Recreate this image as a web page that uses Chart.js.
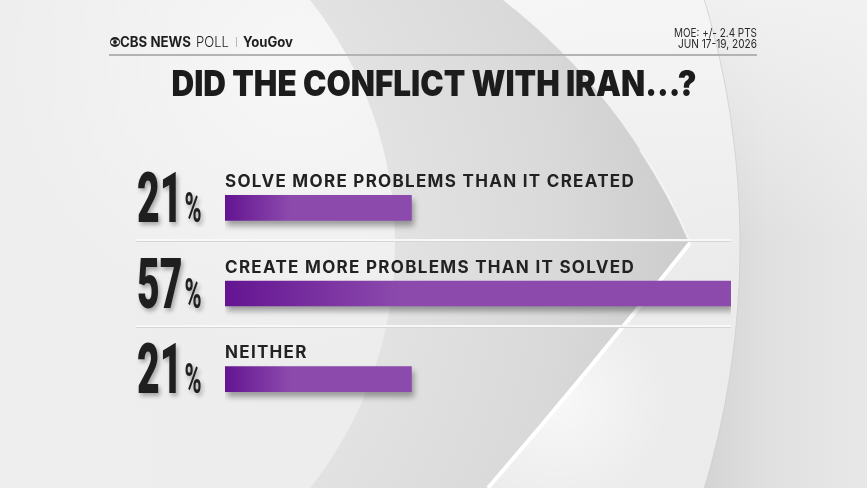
<!DOCTYPE html>
<html>
<head>
<meta charset="utf-8">
<script src="https://cdn.jsdelivr.net/npm/chart.js@4.4.1/dist/chart.umd.min.js"></script>
<style>
  html, body { margin: 0; padding: 0; background: #ececed; }
  #wrap { width: 867px; height: 488px; }
</style>
</head>
<body>
<div id="wrap"><canvas id="chart" width="867" height="488"></canvas></div>
<script>
// poll data
const categories = [
  'SOLVE MORE PROBLEMS THAN IT CREATED',
  'CREATE MORE PROBLEMS THAN IT SOLVED',
  'NEITHER'
];
const values = [21, 57, 21];
const title = 'DID THE CONFLICT WITH IRAN...?';
const moeLines = ['MOE: +/- 2.4 PTS', 'JUN 17-19, 2026'];

const barDark = '#641491';
const barLight = '#8c4aad';

// draws text squeezed horizontally (condensed look)
function squeezed(ctx, text, x, y, font, sx) {
  ctx.save();
  ctx.font = font;
  ctx.translate(x, y);
  ctx.scale(sx, 1);
  ctx.fillText(text, 0, 0);
  const w = ctx.measureText(text).width * sx;
  ctx.restore();
  return w;
}

// fit text into a given width
function fitted(ctx, text, x, y, font, width, align) {
  ctx.save();
  ctx.font = font;
  const w = ctx.measureText(text).width;
  const sx = width / w;
  let left = x;
  if (align === 'center') left = x - width / 2;
  if (align === 'right') left = x - width;
  ctx.translate(left, y);
  ctx.scale(sx, 1);
  ctx.textAlign = 'left';
  ctx.fillText(text, 0, 0);
  ctx.restore();
}

function lensPath(ctx) {
  // dark leaf between the left circle and the chevron curve
  ctx.beginPath();
  ctx.moveTo(310, 0);
  ctx.lineTo(503, 0);
  ctx.quadraticCurveTo(625, 95, 690, 243);
  ctx.quadraticCurveTo(590, 370, 488, 488);
  ctx.lineTo(317, 488);
  ctx.arc(2, 244, 393, Math.asin(244 / 393), -Math.asin(244 / 393), true);
  ctx.closePath();
}

const background = {
  id: 'background',
  beforeDraw(chart) {
    const ctx = chart.ctx;
    const W = chart.width, H = chart.height;
    ctx.save();
    let g = ctx.createLinearGradient(0, 0, W, 0);
    g.addColorStop(0, '#eeeeef');
    g.addColorStop(1, '#ebebec');
    ctx.fillStyle = g;
    ctx.fillRect(0, 0, W, H);

    // soft glow inside the left circle
    g = ctx.createRadialGradient(300, 60, 10, 300, 60, 300);
    g.addColorStop(0, 'rgba(255,255,255,0.55)');
    g.addColorStop(1, 'rgba(255,255,255,0)');
    ctx.fillStyle = g;
    ctx.fillRect(0, 0, W, H);

    // lighter area at the top right
    g = ctx.createLinearGradient(0, 0, 0, 260);
    g.addColorStop(0, 'rgba(248,248,249,0.8)');
    g.addColorStop(1, 'rgba(248,248,249,0)');
    ctx.fillStyle = g;
    ctx.fillRect(503, 0, W - 503, 260);

    // glow left of the white arc
    g = ctx.createRadialGradient(560, 400, 5, 560, 400, 110);
    g.addColorStop(0, 'rgba(255,255,255,0.6)');
    g.addColorStop(1, 'rgba(255,255,255,0)');
    ctx.fillStyle = g;
    ctx.fillRect(400, 280, 300, 208);

    // outer right region beyond the big arc
    ctx.beginPath();
    ctx.rect(0, 0, W, H);
    ctx.arc(-116, 244, 856, 0, Math.PI * 2, true);
    g = ctx.createLinearGradient(700, 0, W, 0);
    g.addColorStop(0, '#d3d3d4');
    g.addColorStop(0.4, '#e0e0e1');
    g.addColorStop(1, '#e8e8e9');
    ctx.fillStyle = g;
    ctx.fill('evenodd');
    g = ctx.createLinearGradient(0, 0, 0, 240);
    g.addColorStop(0, 'rgba(242,242,243,0.95)');
    g.addColorStop(1, 'rgba(242,242,243,0)');
    ctx.fillStyle = g;
    ctx.fill('evenodd');

    // the dark leaf
    lensPath(ctx);
    g = ctx.createRadialGradient(2, 244, 393, 2, 244, 700);
    g.addColorStop(0, '#e2e2e3');
    g.addColorStop(0.55, '#d9d9da');
    g.addColorStop(1, '#cbcbcc');
    ctx.fillStyle = g;
    ctx.fill();

    // highlight on the chevron edge
    ctx.beginPath();
    ctx.moveTo(640, 150);
    ctx.quadraticCurveTo(670, 195, 690, 243);
    ctx.strokeStyle = 'rgba(255,255,255,0.55)';
    ctx.lineWidth = 2;
    ctx.stroke();

    // white arc below the chevron
    ctx.beginPath();
    ctx.moveTo(690, 243);
    ctx.quadraticCurveTo(590, 370, 488, 488);
    ctx.strokeStyle = '#ffffff';
    ctx.lineWidth = 4;
    ctx.stroke();

    // edge of the big arc
    ctx.beginPath();
    ctx.arc(-116, 244, 856, -0.3, 0.3);
    ctx.strokeStyle = 'rgba(200,200,201,0.6)';
    ctx.lineWidth = 1;
    ctx.stroke();
    ctx.restore();
  }
};

const barShadow = {
  id: 'barShadow',
  beforeDatasetDraw(chart) {
    const ctx = chart.ctx;
    ctx.save();
    ctx.shadowColor = 'rgba(0,0,0,0.35)';
    ctx.shadowBlur = 6;
    ctx.shadowOffsetX = 2;
    ctx.shadowOffsetY = 5;
  },
  afterDatasetDraw(chart) {
    chart.ctx.restore();
  }
};

const decorations = {
  id: 'decorations',
  beforeDatasetsDraw(chart) {
    const ctx = chart.ctx;
    const y = chart.scales.y;
    const right = chart.chartArea.right;
    ctx.save();
    for (let i = 0; i < categories.length - 1; i++) {
      const ly = Math.round(y.getPixelForValue(i)) + 32;
      ctx.fillStyle = '#d6d6d7';
      ctx.fillRect(136, ly + 1, right - 136, 1);
      ctx.fillStyle = '#f8f8f9';
      ctx.fillRect(136, ly - 1, right - 136, 2);
    }
    ctx.restore();
  },
  afterDraw(chart) {
    const ctx = chart.ctx;
    const y = chart.scales.y;
    const left = chart.chartArea.left;
    ctx.save();
    ctx.textBaseline = 'alphabetic';

    // header
    ctx.fillStyle = '#b3b3b4';
    ctx.fillRect(109, 54, 648, 2);
    ctx.fillStyle = '#1e1e1e';
    // eye logo
    ctx.beginPath();
    ctx.arc(115, 42, 5, 0, Math.PI * 2);
    ctx.fill();
    ctx.fillStyle = '#efefef';
    ctx.beginPath();
    ctx.ellipse(115, 42, 4.2, 2.6, 0, 0, Math.PI * 2);
    ctx.fill();
    ctx.fillStyle = '#1e1e1e';
    ctx.beginPath();
    ctx.arc(115, 42, 1.9, 0, Math.PI * 2);
    ctx.fill();
    fitted(ctx, 'CBS NEWS', 120, 47, '700 14px Inter', 71, 'left');
    fitted(ctx, 'POLL', 196, 47, '300 14px Inter', 33, 'left');
    ctx.fillStyle = '#b8b8b8';
    ctx.fillRect(236, 37, 1, 10);
    ctx.fillStyle = '#1e1e1e';
    fitted(ctx, 'YouGov', 243, 47, '700 14px Inter', 50, 'left');

    ctx.fillStyle = '#2a2a2a';
    fitted(ctx, moeLines[0], 757, 37, '400 12px Inter', 83, 'right');
    fitted(ctx, moeLines[1], 757, 48, '400 12px Inter', 79, 'right');

    // title
    ctx.fillStyle = '#1c1c1c';
    fitted(ctx, title, 434, 96, '900 35px Inter', 525, 'center');

    // category labels and percentages
    for (let i = 0; i < categories.length; i++) {
      const cy = y.getPixelForValue(i);
      const barBottom = cy + 13;
      ctx.fillStyle = '#222222';
      ctx.font = '700 17px Inter';
      ctx.letterSpacing = '1.3px';
      ctx.fillText(categories[i], left, cy - 21);
      ctx.letterSpacing = '0px';

      ctx.save();
      ctx.shadowColor = 'rgba(0,0,0,0.3)';
      ctx.shadowBlur = 4;
      ctx.shadowOffsetX = 2;
      ctx.shadowOffsetY = 3;
      ctx.fillStyle = '#1f1f1f';
      const w = squeezed(ctx, String(values[i]), 137, barBottom + 1, '900 70px Roboto', 0.56);
      squeezed(ctx, '%', 137 + w + 2, barBottom + 1, '700 42px Roboto', 0.55);
      ctx.restore();
    }
    ctx.restore();
  }
};

new Chart(document.getElementById('chart'), {
  type: 'bar',
  data: {
    labels: categories,
    datasets: [{
      data: values,
      barThickness: 25,
      borderWidth: 0,
      backgroundColor: (c) => {
        const chart = c.chart;
        const area = chart.chartArea;
        if (!area) return barLight;
        const x0 = area.left;
        const x1 = chart.scales.x.getPixelForValue(values[c.dataIndex]);
        const g = chart.ctx.createLinearGradient(x0, 0, x1, 0);
        g.addColorStop(0, barDark);
        g.addColorStop(0.35, barLight);
        g.addColorStop(1, barLight);
        return g;
      }
    }]
  },
  options: {
    indexAxis: 'y',
    responsive: false,
    animation: false,
    devicePixelRatio: 1,
    layout: { padding: { left: 225, right: 136, top: 165, bottom: 66 } },
    scales: {
      x: { display: false, min: 0, max: Math.max(...values) },
      y: { display: false }
    },
    plugins: {
      legend: { display: false },
      tooltip: { enabled: false }
    }
  },
  plugins: [background, barShadow, decorations]
});
</script>
</body>
</html>
